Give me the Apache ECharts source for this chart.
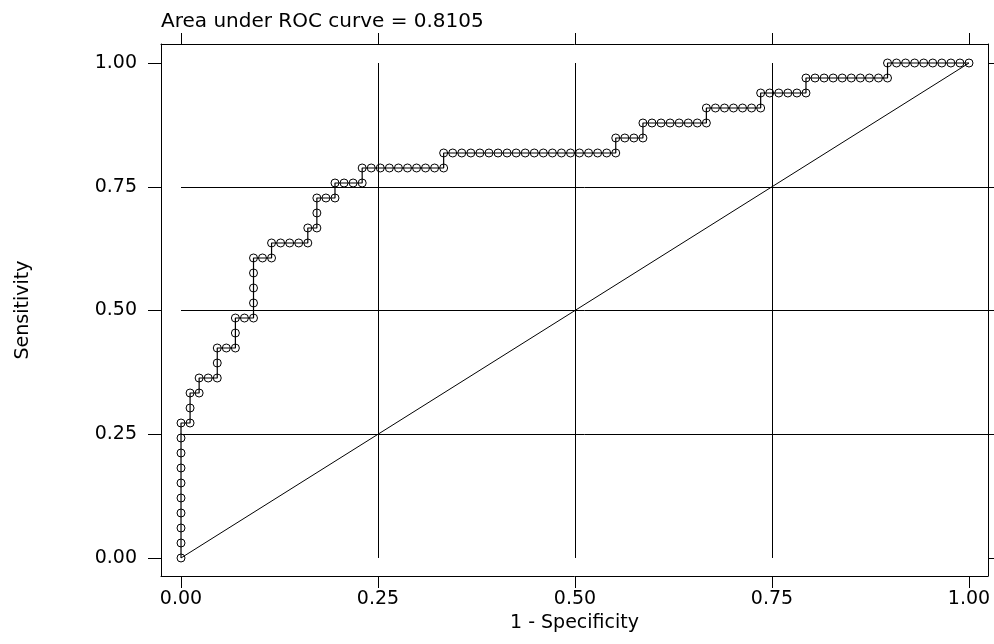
<!DOCTYPE html>
<html>
<head>
<meta charset="utf-8" />
<title>ROC curve</title>
<script src="https://cdn.jsdelivr.net/npm/echarts@6/dist/echarts.min.js"></script>
</head>
<body style="margin:0;background:#fff;">
<div id="chart" style="width:994px;height:644px;"></div>
<script>
// ROC points (1 - specificity, sensitivity)
var oneMinusSpec = [
  0, 0, 0, 0, 0, 0, 0, 0, 0, 0,
  .0115, .0115, .0115, .0230, .0230, .0345, .0460, .0460, .0460, .0575,
  .0690, .0690, .0690, .0805, .0920, .0920, .0920, .0920, .0920, .1034,
  .1149, .1149, .1264, .1379, .1494, .1609, .1609, .1724, .1724, .1724,
  .1839, .1954, .1954, .2069, .2184, .2299, .2299,
  .2414, .2529, .2644, .2759, .2874, .2989, .3103, .3218, .3333, .3333,
  .3448, .3563, .3678, .3793, .3908, .4023, .4138, .4253, .4368, .4483,
  .4598, .4713, .4828, .4943, .5057, .5172, .5287, .5402, .5517, .5517,
  .5632, .5747, .5862, .5862,
  .5977, .6092, .6207, .6322, .6437, .6552, .6667, .6667,
  .6782, .6897, .7011, .7126, .7241, .7356, .7356,
  .7471, .7586, .7701, .7816, .7931, .7931,
  .8046, .8161, .8276, .8391, .8506, .8621, .8736, .8851, .8966, .8966,
  .9080, .9195, .9310, .9425, .9540, .9655, .9770, .9885, 1
];
var sensitivity = [
  0, .0303, .0606, .0909, .1212, .1515, .1818, .2121, .2424, .2727,
  .2727, .3030, .3333, .3333, .3636, .3636, .3636, .3939, .4242, .4242,
  .4242, .4545, .4848, .4848, .4848, .5152, .5455, .5758, .6061, .6061,
  .6061, .6364, .6364, .6364, .6364, .6364, .6667, .6667, .6970, .7273,
  .7273, .7273, .7576, .7576, .7576, .7576, .7879,
  .7879, .7879, .7879, .7879, .7879, .7879, .7879, .7879, .7879, .8182,
  .8182, .8182, .8182, .8182, .8182, .8182, .8182, .8182, .8182, .8182,
  .8182, .8182, .8182, .8182, .8182, .8182, .8182, .8182, .8182, .8485,
  .8485, .8485, .8485, .8788,
  .8788, .8788, .8788, .8788, .8788, .8788, .8788, .9091,
  .9091, .9091, .9091, .9091, .9091, .9091, .9394,
  .9394, .9394, .9394, .9394, .9394, .9697,
  .9697, .9697, .9697, .9697, .9697, .9697, .9697, .9697, .9697, 1,
  1, 1, 1, 1, 1, 1, 1, 1, 1
];
var tickValues = [0, 0.25, 0.5, 0.75, 1];
var gridValues = [0.25, 0.5, 0.75];
var diagonal = [[0, 0], [1, 1]];
var titleText = 'Area under ROC curve = 0.8105';

// plot region padding outside the 0..1 range
var xMin = -0.0254, xMax = 1.0241;
var yMin = -0.0364, yMax = 1.0384;

var font = 'DejaVu Sans';
var fs = 19;

var rocData = [];
for (var i = 0; i < oneMinusSpec.length; i++) {
  rocData.push([oneMinusSpec[i], sensitivity[i]]);
}

var gridLines = [];
gridValues.forEach(function (v) {
  gridLines.push([{ coord: [v, 0] }, { coord: [v, 1] }]);
  gridLines.push([{ coord: [0, v] }, { coord: [xMax, v] }]);
});

function axisBase(pos, tickLen, showLabel) {
  return {
    type: 'value',
    position: pos,
    min: pos === 'bottom' || pos === 'top' ? xMin : yMin,
    max: pos === 'bottom' || pos === 'top' ? xMax : yMax,
    axisLine: { show: true, onZero: false, lineStyle: { color: '#000', width: 1 } },
    axisTick: { show: true, inside: false, length: tickLen, customValues: tickValues,
      lineStyle: { color: '#000', width: 1 } },
    axisLabel: { show: showLabel, customValues: tickValues, color: '#000',
      fontFamily: font, fontSize: fs,
      formatter: function (v) { return v.toFixed(2); } },
    splitLine: { show: false }
  };
}

var xBottom = axisBase('bottom', 12, true);
xBottom.axisLabel.margin = 14;
xBottom.name = '1 - Specificity';
xBottom.nameLocation = 'middle';
xBottom.nameGap = 35;
xBottom.nameTextStyle = { color: '#000', fontFamily: font, fontSize: fs };

var yLeft = axisBase('left', 13, true);
yLeft.axisLabel.margin = 24;
yLeft.name = 'Sensitivity';
yLeft.nameLocation = 'middle';
yLeft.nameGap = 128;
yLeft.nameTextStyle = { color: '#000', fontFamily: font, fontSize: fs };

var option = {
  animation: false,
  backgroundColor: '#fff',
  title: {
    text: titleText,
    left: 156,
    top: 7,
    textStyle: { color: '#000', fontFamily: font, fontSize: 20, fontWeight: 'normal' }
  },
  grid: { left: 161, right: 6, top: 44, bottom: 68, containLabel: false },
  xAxis: [xBottom, axisBase('top', 11, false)],
  yAxis: [yLeft, axisBase('right', 12, false)],
  series: [
    {
      type: 'line',
      data: diagonal,
      symbol: 'none',
      silent: true,
      lineStyle: { color: '#000', width: 1 },
      markLine: {
        silent: true,
        symbol: ['none', 'none'],
        label: { show: false },
        lineStyle: { color: '#000', width: 1, type: 'solid' },
        data: gridLines
      }
    },
    {
      type: 'line',
      data: rocData,
      symbol: 'circle',
      symbolSize: 8,
      showAllSymbol: true,
      silent: true,
      lineStyle: { color: '#000', width: 1.2 },
      itemStyle: { color: 'rgba(0,0,0,0)', borderColor: '#000', borderWidth: 1 }
    }
  ]
};

var myChart = echarts.init(document.getElementById('chart'));
myChart.setOption(option);
</script>
</body>
</html>
